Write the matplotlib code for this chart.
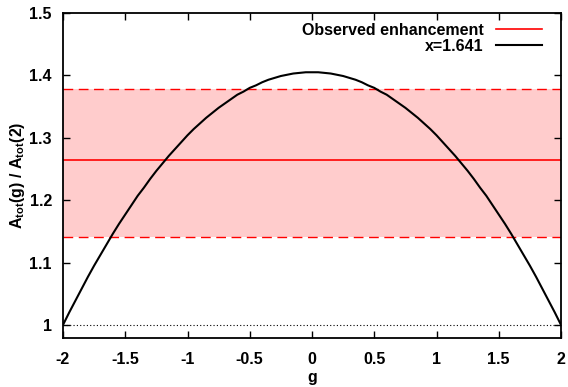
import numpy as np
import matplotlib
matplotlib.use('Agg')
import matplotlib.pyplot as plt

plt.rcParams['font.family'] = ['Liberation Sans', 'DejaVu Sans']
plt.rcParams['font.weight'] = 'bold'
plt.rcParams['mathtext.fontset'] = 'custom'
plt.rcParams['mathtext.bf'] = 'Liberation Sans:bold'
plt.rcParams['mathtext.rm'] = 'Liberation Sans:bold'
plt.rcParams['mathtext.default'] = 'bf'

# curve (x=1.641)
g_vals = [-2.00, -1.95, -1.90, -1.85, -1.80, -1.75, -1.70, -1.65, -1.60, -1.55,
          -1.50, -1.45, -1.40, -1.35, -1.30, -1.25, -1.20, -1.15, -1.10, -1.05,
          -1.00, -0.95, -0.90, -0.85, -0.80, -0.75, -0.70, -0.65, -0.60, -0.55,
          -0.50, -0.45, -0.40, -0.35, -0.30, -0.25, -0.20, -0.15, -0.10, -0.05,
          0.00, 0.05, 0.10, 0.15, 0.20, 0.25, 0.30, 0.35, 0.40, 0.45,
          0.50, 0.55, 0.60, 0.65, 0.70, 0.75, 0.80, 0.85, 0.90, 0.95,
          1.00, 1.05, 1.10, 1.15, 1.20, 1.25, 1.30, 1.35, 1.40, 1.45,
          1.50, 1.55, 1.60, 1.65, 1.70, 1.75, 1.80, 1.85, 1.90, 1.95, 2.00]
ratio = [1.000, 1.020, 1.039, 1.058, 1.077, 1.095, 1.112, 1.129, 1.146, 1.162,
         1.177, 1.192, 1.207, 1.220, 1.234, 1.247, 1.259, 1.271, 1.282, 1.293,
         1.304, 1.314, 1.323, 1.332, 1.340, 1.348, 1.355, 1.362, 1.369, 1.374,
         1.380, 1.384, 1.389, 1.393, 1.396, 1.399, 1.401, 1.403, 1.404, 1.405,
         1.405, 1.405, 1.404, 1.403, 1.401, 1.399, 1.396, 1.393, 1.389, 1.384,
         1.380, 1.374, 1.369, 1.362, 1.355, 1.348, 1.340, 1.332, 1.323, 1.314,
         1.304, 1.293, 1.282, 1.271, 1.259, 1.247, 1.234, 1.220, 1.207, 1.192,
         1.177, 1.162, 1.146, 1.129, 1.112, 1.095, 1.077, 1.058, 1.039, 1.020, 1.000]

# observed enhancement and its band
obs_mid = 1.265
obs_lo = 1.141
obs_hi = 1.378

xticks = [-2, -1.5, -1, -0.5, 0, 0.5, 1, 1.5, 2]
xticklabels = ['-2', '-1.5', '-1', '-0.5', '0', '0.5', '1', '1.5', '2']
yticks = [1, 1.1, 1.2, 1.3, 1.4, 1.5]
yticklabels = ['1', '1.1', '1.2', '1.3', '1.4', '1.5']

fs = 11.5

fig = plt.figure(figsize=(5.68, 3.87), dpi=100)
ax = fig.add_axes([63/568, 49/387, 498/568, 325/387])

ax.axhspan(obs_lo, obs_hi, color='#ffcccc', lw=0, zorder=1)
ax.axhline(obs_lo, color='#ff0000', lw=1, ls=(0, (7, 4)), zorder=2)
ax.axhline(obs_hi, color='#ff0000', lw=1, ls=(0, (7, 4)), zorder=2)
ax.axhline(obs_mid, color='#ff0000', lw=1.2, zorder=2, label='Observed enhancement')
ax.axhline(1.0, color='black', lw=0.8, ls=(0, (1, 2)), zorder=2)
ax.plot(g_vals, ratio, color='black', lw=1.5, zorder=3, label='x=1.641')

ax.set_xlim(-2, 2)
ax.set_ylim(0.979, 1.5)
ax.set_xticks(xticks)
ax.set_xticklabels(xticklabels)
ax.set_yticks(yticks)
ax.set_yticklabels(yticklabels)
ax.tick_params(direction='in', length=5, width=1, top=True, right=True,
               labelsize=fs, pad=8)
ax.tick_params(axis='x', pad=10)
for s in ax.spines.values():
    s.set_linewidth(1.3)

ax.set_xlabel('g', fontsize=fs, fontweight='bold', labelpad=2)
ax.set_ylabel('A$_{tot}$(g) / A$_{tot}$(2)', fontsize=fs, fontweight='bold', labelpad=2)

leg = ax.legend(loc='upper right', bbox_to_anchor=(0.962, 0.97), frameon=False,
                markerfirst=False, fontsize=fs,
                handlelength=2.9, handletextpad=0.75, labelspacing=0.05,
                borderaxespad=0, borderpad=0)

fig.savefig('out.png', dpi=100)
